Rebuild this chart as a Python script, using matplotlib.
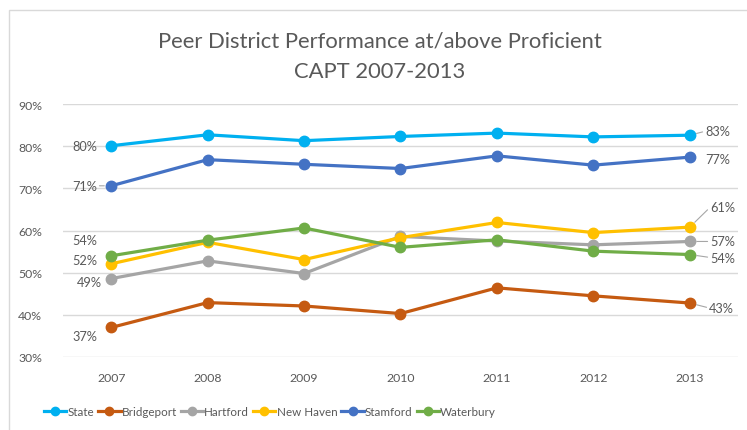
import matplotlib
matplotlib.use("Agg")
import matplotlib.pyplot as plt
from matplotlib.patches import Rectangle
from matplotlib.ticker import FuncFormatter

plt.rcParams['font.family'] = ['Lato', 'DejaVu Sans']

years = ['2007', '2008', '2009', '2010', '2011', '2012', '2013']
series_names = ['State', 'Bridgeport', 'Hartford', 'New Haven', 'Stamford', 'Waterbury']
state = [80.1, 82.7, 81.3, 82.3, 83.1, 82.2, 82.6]
bridgeport = [37.0, 42.9, 42.1, 40.3, 46.4, 44.5, 42.8]
hartford = [48.6, 52.8, 49.8, 58.6, 57.5, 56.6, 57.4]
new_haven = [52.1, 57.2, 53.1, 58.3, 61.9, 59.5, 60.8]
stamford = [70.6, 76.8, 75.7, 74.7, 77.7, 75.5, 77.4]
waterbury = [54.0, 57.7, 60.6, 56.0, 57.8, 55.1, 54.3]
yticks = [30, 40, 50, 60, 70, 80, 90]

values = [state, bridgeport, hartford, new_haven, stamford, waterbury]
colors = ['#00B0F0', '#C55A11', '#A5A5A5', '#FFC000', '#4472C4', '#70AD47']

# label offsets in pixels (first point, last point), and whether a leader line is drawn
first_off = [(-26, 0), (-26, -9), (-22, -3), (-26, 4), (-27, 0), (-26, 16)]
last_off = [(28, 4), (32, -5), (33, 0), (33, 20), (28, -2), (33, -3)]
first_leader = [False, False, False, False, True, False]
last_leader = [True, True, True, True, False, True]

TXT = '#595959'

fig = plt.figure(figsize=(7.47, 4.31), dpi=100)
ax = fig.add_axes([63 / 747, 1 - 358 / 431, (738 - 63) / 747, (358 - 105) / 431])

x = list(range(len(years)))
for name, vals, c in zip(series_names, values, colors):
    ax.plot(x, vals, color=c, lw=2.3, marker='o', markersize=7.5,
            markeredgecolor=c, label=name, zorder=3)

for i, (vals, c) in enumerate(zip(values, colors)):
    v0 = vals[0]
    ap = dict(arrowstyle='-', color='#A6A6A6', lw=0.8, shrinkA=0, shrinkB=5,
              relpos=(1, 0.5)) if first_leader[i] else None
    ax.annotate(f'{round(v0)}%', (x[0], v0), xytext=first_off[i],
                textcoords='offset pixels', ha='center', va='center',
                fontsize=9.2, color=TXT, arrowprops=ap, zorder=4)
    v1 = vals[-1]
    ap = dict(arrowstyle='-', color='#A6A6A6', lw=0.8, shrinkA=0, shrinkB=5,
              relpos=(0, 0.5)) if last_leader[i] else None
    ax.annotate(f'{round(v1)}%', (x[-1], v1), xytext=last_off[i],
                textcoords='offset pixels', ha='center', va='center',
                fontsize=9.2, color=TXT, arrowprops=ap, zorder=4)

ax.set_xlim(-0.5, len(years) - 0.5)
ax.set_ylim(30, 90)
ax.set_yticks(yticks)
ax.yaxis.set_major_formatter(FuncFormatter(lambda v, p: f'{int(v)}%'))
ax.set_xticks(x)
ax.set_xticklabels(years)
ax.grid(axis='y', color='#D9D9D9', lw=1)
ax.set_axisbelow(True)
for s in ax.spines.values():
    s.set_visible(False)
ax.tick_params(axis='both', length=0, colors=TXT, labelsize=8.8)
ax.tick_params(axis='x', pad=11)
ax.tick_params(axis='y', pad=15)

fig.text(380 / 747, 1 - 42 / 431, 'Peer District Performance at/above Proficient',
         ha='center', va='center', fontsize=15.8, color=TXT)
fig.text(380 / 747, 1 - 72 / 431, 'CAPT 2007-2013',
         ha='center', va='center', fontsize=15.8, color=TXT)

leg = fig.legend(loc='center', bbox_to_anchor=(270 / 747, 1 - 413 / 431), ncol=6,
                 frameon=False, fontsize=8.4, handlelength=1.9, handletextpad=0.1,
                 columnspacing=0.35, labelcolor=TXT, markerscale=0.8,
                 borderaxespad=0, borderpad=0)

fig.patches.append(Rectangle((9 / 747, -0.1), 1.2, 1 - 11 / 431 + 0.1,
                             transform=fig.transFigure, fill=False,
                             edgecolor='#D9D9D9', lw=1))

fig.savefig('out.png', dpi=100)
